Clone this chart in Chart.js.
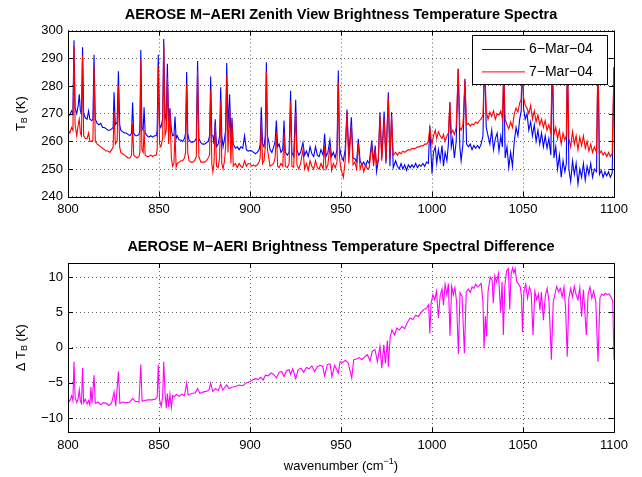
<!DOCTYPE html>
<html>
<head>
<meta charset="utf-8">
<script src="https://cdn.jsdelivr.net/npm/chart.js@4.4.1/dist/chart.umd.min.js"></script>
<style>
  body { margin: 0; background: #fff; }
  #wrap { position: relative; width: 642px; height: 477px; }
  canvas { position: absolute; left: 0; }
</style>
</head>
<body>
<div id="wrap">
  <canvas id="spectra" width="642" height="232" style="top:0"></canvas>
  <canvas id="diff" width="642" height="245" style="top:232px"></canvas>
</div>
<script>
// wavenumbers (cm-1) for the two spectra
const wnTop = [
  800.0, 801.0, 802.0, 802.7, 803.3, 803.9, 804.8, 805.6, 806.2, 806.8,
  807.4, 808.0, 808.6, 809.5, 810.5, 811.3, 812.0, 813.0, 813.7, 814.3,
  815.0, 816.0, 817.0, 818.0, 819.0, 820.0, 821.0, 822.0, 823.0, 824.0,
  824.8, 825.3, 826.0, 827.0, 827.7, 828.4, 829.0, 830.0, 831.0, 832.0,
  833.0, 834.0, 834.9, 835.5, 836.1, 837.0, 838.0, 839.0, 839.5, 840.0,
  840.6, 841.3, 841.8, 842.4, 843.5, 844.5, 845.5, 846.5, 847.5, 848.5,
  849.0, 849.6, 850.3, 851.0, 852.0, 852.6, 853.3, 854.0, 854.6, 855.3,
  856.0, 856.8, 857.5, 858.2, 858.8, 859.4, 860.0, 861.0, 862.0, 863.0,
  864.0, 864.6, 865.2, 865.8, 866.5, 867.5, 868.5, 869.5, 870.5, 871.2,
  871.9, 873.0, 874.0, 875.0, 876.0, 877.0, 877.8, 878.4, 879.0, 879.6,
  880.2, 880.9, 881.6, 882.5, 883.3, 883.9, 884.5, 885.2, 886.0, 886.6,
  887.2, 887.9, 888.8, 889.5, 890.1, 890.8, 892.0, 893.0, 894.0, 895.0,
  896.0, 897.0, 898.0, 899.0, 900.0, 901.0, 902.0, 903.0, 904.0, 905.0,
  905.6, 906.2, 906.9, 907.7, 908.4, 909.0, 909.6, 910.3, 911.0, 912.0,
  913.0, 913.8, 914.5, 915.2, 916.0, 917.0, 918.0, 918.7, 919.4, 920.5,
  921.5, 922.3, 923.0, 924.0, 925.1, 925.8, 926.8, 927.8, 929.1, 930.0,
  931.0, 932.0, 933.0, 934.0, 935.0, 936.0, 937.0, 938.0, 939.0, 940.2,
  941.0, 941.8, 942.8, 943.9, 944.8, 945.8, 946.8, 947.8, 948.5, 949.2,
  950.0, 951.3, 952.3, 953.3, 954.3, 955.7, 956.6, 957.6, 958.6, 959.5,
  960.5, 961.5, 962.5, 963.5, 964.5, 965.5, 966.9, 967.9, 968.8, 969.5,
  970.5, 971.4, 972.4, 973.7, 974.7, 976.0, 976.9, 977.8, 978.7, 980.0,
  981.0, 982.0, 983.0, 984.0, 985.0, 986.0, 987.0, 988.0, 989.0, 990.0,
  991.0, 992.0, 993.0, 994.0, 995.0, 996.0, 997.0, 998.0, 998.8, 999.5,
  1000.0, 1000.8, 1001.8, 1002.6, 1003.5, 1004.5, 1005.5, 1006.3, 1007.2, 1008.2,
  1009.0, 1009.8, 1010.6, 1011.4, 1012.3, 1013.3, 1014.4, 1015.3, 1016.0, 1017.0,
  1018.1, 1019.0, 1020.0, 1021.0, 1022.0, 1023.0, 1024.0, 1025.0, 1026.0, 1027.0,
  1028.0, 1028.9, 1029.8, 1030.8, 1031.8, 1032.8, 1033.8, 1034.8, 1035.8, 1036.8,
  1037.8, 1038.7, 1039.4, 1040.2, 1041.2, 1042.2, 1043.2, 1044.2, 1045.2, 1046.2,
  1047.2, 1048.2, 1049.0, 1049.6, 1050.3, 1051.2, 1052.2, 1053.2, 1054.2, 1055.2,
  1056.2, 1057.2, 1058.2, 1059.2, 1060.2, 1061.2, 1062.2, 1063.2, 1064.2, 1065.3,
  1066.1, 1067.0, 1068.0, 1069.0, 1070.0, 1071.0, 1072.0, 1073.0, 1073.8, 1074.4,
  1075.2, 1076.2, 1077.2, 1078.2, 1079.2, 1080.2, 1081.2, 1082.2, 1083.2, 1084.2,
  1085.2, 1086.2, 1087.2, 1088.2, 1089.2, 1090.4, 1091.2, 1092.0, 1093.0, 1094.0,
  1095.0, 1096.0, 1097.0, 1098.0, 1099.0, 1100.0
];

// brightness temperature (K), 6-Mar-04
const tb6 = [
  270, 269.5, 271, 270, 296.5, 272, 270, 273, 277, 271,
  270, 294, 270, 268.5, 268, 271, 268, 267.5, 268, 291.3,
  268, 266.5, 266, 266.5, 265, 265, 264.5, 264, 264, 264.5,
  265, 277.7, 266, 267, 285.3, 266, 264, 263.5, 263, 263,
  262.5, 262, 263, 274, 263, 262, 262, 262.5, 264, 293,
  265, 264, 272.3, 263, 262, 261.5, 262, 261.5, 262, 262,
  264, 291.3, 266, 265, 268, 297, 268, 270, 288, 267,
  272, 264, 262, 262, 269, 261, 262, 260.5, 260.5, 260,
  261, 263, 285, 263, 260.5, 259.7, 259.7, 260, 261, 289,
  261, 259.5, 259, 259, 259.5, 260, 262, 283.4, 262, 262,
  259, 268, 258, 259, 262, 279.5, 262, 258, 261, 264,
  288.3, 265, 277, 261, 268.5, 259, 257.5, 258, 257, 258,
  257.5, 262, 257, 256.5, 256.7, 256.5, 256, 255.5, 256, 257,
  259, 272.3, 259, 258, 262, 288.6, 262, 260, 257, 256,
  258, 260, 267.5, 258, 259, 256, 257, 267.5, 256, 255,
  256, 278.3, 256, 254.5, 275, 257, 255, 256, 259.5, 255,
  256.5, 254.5, 258, 255.5, 254.5, 258, 255, 254.5, 257, 255,
  262.7, 254.5, 256, 260.5, 254.5, 256, 254, 257, 285.6, 258,
  255, 253, 257, 271.5, 255, 268.7, 254, 253.7, 252.5, 260.9,
  253, 251.5, 252.5, 251, 253, 252, 260.3, 252.5, 258.5, 249,
  253, 270.5, 254, 270.8, 252, 277.7, 251, 270.5, 250.5, 253,
  251, 250, 252, 250, 251.5, 249.5, 251.5, 250.5, 251.5, 250.5,
  252, 250.5, 251.5, 251, 252, 251, 252.5, 252, 265.5, 255,
  248.3, 256, 258, 252, 257, 253, 258.5, 251, 256, 253,
  259, 274.1, 258, 261, 254, 260, 286.2, 258, 253, 259,
  282.6, 259, 258, 259, 257, 258.5, 257.5, 258.5, 257.5, 259,
  262, 291, 265, 262, 259, 264, 257, 261, 263, 256.5,
  262, 258, 288, 254, 258, 250.5, 256, 251, 260, 265,
  262, 268, 271, 292, 272, 268, 270, 264, 267, 262,
  266, 260, 264, 259, 263, 258, 262, 257.5, 261, 255,
  292, 254, 258, 250, 255, 247, 253, 249, 252, 292,
  250, 245.5, 253, 248, 252, 244.5, 250, 247, 252, 246,
  251, 248, 252, 247, 250, 249, 292, 248, 249.5, 247,
  249, 247.5, 249, 247, 248.5, 286.8
];

// brightness temperature (K), 7-Mar-04
const tb7 = [
  264, 263, 265, 264, 294.5, 266, 262, 266, 268, 263,
  262, 291, 262, 261, 261, 263, 260, 260, 260.5, 287.4,
  260, 259, 258.5, 258, 257.5, 257, 256.5, 256.5, 256, 257,
  258, 271, 259, 260, 280, 258, 256, 255.5, 255, 254.5,
  254, 254, 255, 266.3, 255, 254.5, 254, 254.5, 256, 289.4,
  257, 256, 264, 255, 254.5, 254.5, 255, 254.5, 255, 255,
  257, 287.4, 259, 258, 261, 295, 262, 264, 283.2, 259,
  271, 254, 251, 252, 263, 250.7, 252, 252.5, 253, 253,
  254, 256, 280.7, 256, 253, 252.5, 252.5, 253, 254.5, 285.6,
  254.5, 252.5, 252.5, 252.5, 253, 254, 255, 278.6, 252, 249,
  252, 266, 251, 250.5, 254, 274.7, 252, 250, 253, 258,
  283.8, 256, 272.3, 252, 267, 251, 252, 250.5, 252, 251,
  250.5, 253, 251, 252, 251.9, 251, 251.5, 251, 251.5, 252.5,
  254, 267.5, 252, 253, 258, 285.3, 257, 254, 251, 251.5,
  252, 254, 263.3, 251, 250.5, 252, 251, 263.3, 251, 250.5,
  252, 274.5, 251, 250.7, 270.5, 251.5, 250, 252, 257, 250,
  252, 249.5, 253, 251, 250, 253, 250.5, 250, 252, 250,
  258.5, 250, 251.5, 258.5, 249.5, 252, 250.5, 252.5, 281.5, 254,
  250, 247, 253, 270.5, 252, 265.7, 251.5, 252.5, 250, 259.5,
  250, 252, 249, 251.5, 250, 250.5, 258.5, 251, 257, 252,
  253.5, 269.3, 253, 268, 253, 275.9, 254, 269, 255, 256,
  255, 256, 255.5, 256.5, 256, 256.5, 257, 256.8, 257.5, 257.3,
  257.5, 258, 258, 258.5, 258.3, 259, 259, 260, 265, 261,
  259, 262, 264, 261, 263.5, 262, 261, 262.5, 260, 262,
  263, 274.1, 263, 264, 262.5, 265, 286.2, 265, 264, 266,
  282, 266, 266.5, 265.5, 266.3, 266, 267, 266.5, 267.5, 268,
  269.5, 289, 271, 268, 270.5, 269, 271, 268, 270, 269.5,
  271, 268, 286, 268, 266, 264.5, 267, 265, 270, 272,
  270.5, 274, 275, 290, 276, 273, 272, 270, 273, 268,
  271, 267, 269.5, 266, 268, 265, 267.5, 264, 266, 263,
  290, 262.5, 265, 261, 264, 259, 263, 260.5, 262, 290,
  261, 258, 263.5, 259, 262, 257, 261.5, 258.5, 262, 257.5,
  260, 256.5, 259, 256, 258, 256, 290, 255.5, 256.5, 255,
  256, 254.5, 256, 254.5, 255.5, 286.8
];

// wavenumbers (cm-1) for the difference spectrum
const wnDiff = [
  800, 801, 802, 802.7, 803.3, 803.9, 804.8, 805.6, 806.2, 806.8,
  807.4, 808.0, 808.6, 809.5, 810.5, 811.3, 812.0, 812.6, 813.2, 814.3,
  815.0, 816.5, 818.0, 819.5, 821.0, 822.5, 824.0, 825.3, 826.2, 827.7,
  828.5, 830.0, 832.0, 834.0, 835.5, 837.0, 839.0, 840.0, 840.7, 842.0,
  844.0, 846.0, 848.0, 849.0, 849.6, 850.3, 851.2, 852.0, 852.6, 853.3,
  854.0, 854.6, 855.3, 856.0, 856.8, 857.5, 858.5, 859.5, 861.0, 862.5,
  864.0, 865.2, 866.0, 868.0, 870.0, 871.2, 872.5, 874.0, 876.0, 877.5,
  878.4, 879.5, 881.0, 882.5, 883.9, 885.0, 887.2, 888.5, 890.0, 892.0,
  894.0, 896.0, 898.0, 900.0, 901.5, 903.0, 904.5, 906.0, 907.2, 908.5,
  910.0, 911.5, 913.0, 914.5, 916.0, 917.5, 918.7, 920.0, 921.5, 922.3,
  923.5, 925.1, 926.5, 928.0, 929.5, 931.0, 932.5, 934.0, 935.5, 937.0,
  938.5, 940.0, 941.0, 942.5, 944.0, 945.0, 946.5, 948.5, 949.5, 951.0,
  952.5, 954.0, 955.9, 957.0, 958.5, 960.0, 961.5, 963.0, 964.5, 966.0,
  967.2, 968.7, 970.0, 971.4, 972.4, 973.5, 974.4, 975.5, 976.0, 977.0,
  978.0, 979.5, 980.6, 982.0, 983.5, 985.0, 986.5, 988.0, 989.5, 991.0,
  992.5, 994.0, 995.5, 997.0, 998.2, 998.8, 999.5, 1000.5, 1001.5, 1002.5,
  1003.5, 1004.5, 1005.5, 1006.3, 1007.2, 1008.2, 1009.0, 1009.9, 1010.8, 1011.7,
  1012.6, 1013.5, 1014.5, 1015.4, 1016.5, 1017.8, 1018.8, 1020.0, 1021.0, 1022.0,
  1023.0, 1024.0, 1025.0, 1026.0, 1027.0, 1028.0, 1028.6, 1029.3, 1030.0, 1030.8,
  1032.0, 1033.0, 1033.7, 1034.5, 1035.5, 1036.5, 1037.7, 1038.5, 1039.2, 1040.0,
  1041.0, 1042.0, 1042.7, 1043.5, 1044.3, 1045.0, 1045.7, 1046.5, 1047.5, 1048.5,
  1049.2, 1049.7, 1050.5, 1051.5, 1052.5, 1053.5, 1054.5, 1055.5, 1056.5, 1057.5,
  1058.5, 1059.3, 1060.1, 1061.2, 1062.3, 1063.3, 1064.3, 1065.6, 1066.6, 1067.5,
  1068.5, 1069.5, 1070.5, 1071.5, 1072.5, 1073.4, 1074.3, 1075.2, 1076.2, 1077.2,
  1078.2, 1079.2, 1080.2, 1081.2, 1082.2, 1083.2, 1084.8, 1085.8, 1086.8, 1087.8,
  1088.8, 1090.0, 1091.2, 1092.3, 1093.3, 1094.3, 1095.3, 1096.3, 1097.3, 1098.3,
  1099.3, 1100.0
];

// brightness temperature difference (K)
const dTb = [
  -7.3, -7.6, -6.8, -7.5, -2.0, -7.0, -7.8, -7.2, -6.0, -7.6,
  -7.9, -2.9, -7.8, -7.3, -8.0, -7.5, -8.1, -5.6, -7.9, -3.9,
  -7.9, -7.7, -8.1, -7.8, -7.9, -8.2, -7.8, -6.3, -8.3, -3.4,
  -7.9, -7.7, -7.8, -7.7, -7.2, -7.6, -7.7, -2.4, -7.6, -7.5,
  -7.4, -7.4, -7.3, -7.0, -2.4, -7.4, -8.3, -7.0, -2.0, -6.4,
  -8.6, -6.5, -8.4, -6.6, -8.5, -6.8, -7.0, -6.6, -6.9, -6.6,
  -6.8, -5.0, -6.7, -6.5, -6.4, -5.8, -6.5, -6.3, -6.2, -6.0,
  -5.0, -6.2, -5.8, -6.1, -5.2, -6.0, -5.3, -5.8, -5.6, -5.5,
  -5.3, -5.4, -5.0, -4.8, -4.6, -4.4, -4.5, -4.2, -4.6, -3.9,
  -4.0, -3.6, -3.8, -4.3, -3.5, -3.4, -4.1, -3.3, -3.1, -3.8,
  -3.0, -4.4, -3.1, -2.9, -3.5, -2.8, -3.0, -2.6, -3.4, -2.7,
  -2.5, -2.7, -4.0, -2.4, -2.3, -4.1, -2.5, -3.6, -2.0, -2.1,
  -1.8, -2.2, -4.3, -1.7, -1.6, -1.4, -1.7, -1.3, -1.0, -1.9,
  -0.5, -0.3, -2.0, 0.2, -2.9, 0.4, -2.2, 1.0, -2.7, 1.5,
  2.5, 1.8, 2.8, 2.5, 3.0, 2.7, 3.6, 4.2, 4.0, 4.6,
  4.4, 5.0, 5.4, 5.6, 6.1, 2.0, 6.3, 7.5, 6.8, 8.0,
  4.2, 7.4, 8.3, 6.0, 9.0, 7.5, 9.1, 1.7, 8.7, 7.5,
  8.5, 6.5, -0.9, 7.8, 7.3, -0.8, 7.9, 8.3, 7.8, 8.6,
  8.4, 9.0, 8.6, 8.8, 9.1, 6.5, -0.1, 4.5, 1.6, 8.0,
  10.0, 9.6, 6.3, 10.2, 9.3, 10.5, 5.1, 9.3, 1.8, 8.8,
  10.9, 11.2, 5.4, 10.5, 11.3, 10.6, 11.2, 9.4, 9.0, 8.6,
  7.2, 2.2, 8.0, 9.0, 7.0, 8.6, 7.8, 1.8, 8.0, 6.8,
  7.6, 5.3, 7.9, 3.9, 7.4, 8.4, 6.5, -1.7, 6.4, 7.5,
  8.7, 7.9, 8.4, 7.2, 8.6, 5.5, -1.3, 7.0, 8.4, 7.2,
  8.7, 7.5, 6.8, 8.5, 4.4, 8.2, 1.8, 7.7, 8.6, 7.0,
  8.0, 6.5, -2.0, 7.1, 7.6, 7.4, 7.7, 7.5, 7.6, 7.2,
  6.6, -1.7
];

const seriesNames = ['6\u2212Mar\u221204', '7\u2212Mar\u221204'];
const FONT = '"Liberation Sans", Arial, Helvetica, sans-serif';

const pts = (xs, ys) => xs.map((x, i) => ({ x: x, y: ys[i] }));
const minus = v => String(v).replace('-', '\u2212');

// draws text pieces of different sizes (sub/superscripts), centred on cx,cy
function drawParts(ctx, parts, cx, cy, vertical) {
  ctx.save();
  ctx.translate(cx, cy);
  if (vertical) ctx.rotate(-Math.PI / 2);
  ctx.textBaseline = 'middle';
  ctx.textAlign = 'left';
  ctx.fillStyle = '#000';
  let w = 0;
  parts.forEach(p => { ctx.font = (p.b ? 'bold ' : '') + p.s + 'px ' + FONT; w += ctx.measureText(p.t).width; });
  let x = -w / 2;
  parts.forEach(p => {
    ctx.font = (p.b ? 'bold ' : '') + p.s + 'px ' + FONT;
    ctx.fillText(p.t, x, p.dy || 0);
    x += ctx.measureText(p.t).width;
  });
  ctx.restore();
}

// box, inward ticks, titles and legend, in the matlab way
const frame = {
  id: 'frame',
  afterDraw(chart, args, opts) {
    const ctx = chart.ctx, a = chart.chartArea;
    const xs = chart.scales.x, ys = chart.scales.y;
    ctx.save();
    ctx.strokeStyle = '#000';
    ctx.lineWidth = 1;
    ctx.beginPath();
    xs.ticks.forEach(t => {
      const p = Math.round(xs.getPixelForValue(t.value)) + 0.5;
      ctx.moveTo(p, a.bottom); ctx.lineTo(p, a.bottom - 5);
      ctx.moveTo(p, a.top); ctx.lineTo(p, a.top + 5);
    });
    ys.ticks.forEach(t => {
      const p = Math.round(ys.getPixelForValue(t.value)) + 0.5;
      ctx.moveTo(a.left, p); ctx.lineTo(a.left + 5, p);
      ctx.moveTo(a.right, p); ctx.lineTo(a.right - 5, p);
    });
    ctx.stroke();
    ctx.strokeRect(Math.round(a.left) + 0.5, Math.round(a.top) + 0.5,
      Math.round(a.right - a.left), Math.round(a.bottom - a.top));

    if (opts.legend) {
      const L = opts.legend;
      ctx.fillStyle = '#fff';
      ctx.fillRect(L.x, L.y, L.w, L.h);
      ctx.strokeRect(L.x + 0.5, L.y + 0.5, L.w, L.h);
      ctx.font = '14px ' + FONT;
      ctx.textBaseline = 'middle';
      ctx.fillStyle = '#000';
      L.items.forEach((it, i) => {
        const yy = L.y + 14.5 + i * 22.4;
        ctx.strokeStyle = it.color;
        ctx.beginPath();
        ctx.moveTo(L.x + 10, yy); ctx.lineTo(L.x + 53, yy);
        ctx.stroke();
        ctx.fillText(it.label, L.x + 57, yy);
      });
    }
    ctx.restore();
    const cx = (a.left + a.right) / 2;
    if (opts.title) drawParts(ctx, [{ t: opts.title, s: 14.5, b: true }], cx, opts.titleY, false);
    if (opts.yTitle) drawParts(ctx, opts.yTitle, 21, (a.top + a.bottom) / 2, true);
    if (opts.xTitle) drawParts(ctx, opts.xTitle, cx, opts.xTitleY, false);
  }
};

function axes(ymin, ymax, ystep, xHeight) {
  return {
    x: {
      type: 'linear', min: 800, max: 1100,
      afterFit: s => { s.height = xHeight; },
      ticks: { stepSize: 50, padding: 5, color: '#000', font: { family: FONT, size: 13 },
        maxRotation: 0, callback: v => String(v) },
      grid: { color: 'rgba(0,0,0,0.6)', drawTicks: false, tickLength: 0 },
      border: { display: false, dash: [1, 3] }
    },
    y: {
      min: ymin, max: ymax,
      afterFit: s => { s.width = 68; },
      ticks: { stepSize: ystep, includeBounds: false, padding: 5, color: '#000',
        font: { family: FONT, size: 13 }, callback: v => minus(v) },
      grid: { color: 'rgba(0,0,0,0.6)', drawTicks: false, tickLength: 0 },
      border: { display: false, dash: [1, 3] }
    }
  };
}

// top chart: brightness temperature spectra
new Chart(document.getElementById('spectra'), {
  type: 'line',
  data: {
    datasets: [
      { label: seriesNames[0], data: pts(wnTop, tb6), borderColor: '#0000ff', order: 2 },
      { label: seriesNames[1], data: pts(wnTop, tb7), borderColor: '#ff0000', order: 1 }
    ]
  },
  options: {
    responsive: false,
    animation: false,
    layout: { padding: { left: 0, right: 28, top: 30.6, bottom: 0 } },
    elements: { point: { radius: 0 }, line: { borderWidth: 1.1, tension: 0 } },
    scales: axes(240, 300, 10, 232 - 196.7),
    plugins: {
      legend: { display: false },
      tooltip: { enabled: false },
      frame: {
        title: 'AEROSE M\u2212AERI Zenith View Brightness Temperature Spectra',
        titleY: 14.8,
        yTitle: [{ t: 'T', s: 13 }, { t: 'B', s: 9, dy: 4 }, { t: ' (K)', s: 13 }],
        legend: { x: 472, y: 35, w: 135, h: 49,
          items: [{ label: seriesNames[0], color: '#0000ff' }, { label: seriesNames[1], color: '#ff0000' }] }
      }
    }
  },
  plugins: [frame]
});

// bottom chart: spectral difference
new Chart(document.getElementById('diff'), {
  type: 'line',
  data: {
    datasets: [
      { label: 'difference', data: pts(wnDiff, dTb), borderColor: '#ff00ff' }
    ]
  },
  options: {
    responsive: false,
    animation: false,
    layout: { padding: { left: 0, right: 28, top: 31, bottom: 0 } },
    elements: { point: { radius: 0 }, line: { borderWidth: 1.1, tension: 0 } },
    scales: axes(-12, 12, 5, 245 - 200.3),
    plugins: {
      legend: { display: false },
      tooltip: { enabled: false },
      frame: {
        title: 'AEROSE M\u2212AERI Brightness Temperature Spectral Difference',
        titleY: 14.7,
        yTitle: [{ t: '\u0394 T', s: 13 }, { t: 'B', s: 9, dy: 4 }, { t: ' (K)', s: 13 }],
        xTitle: [{ t: 'wavenumber (cm', s: 13 }, { t: '\u22121', s: 9, dy: -5 }, { t: ')', s: 13 }],
        xTitleY: 234.7
      }
    }
  },
  plugins: [frame]
});
</script>
</body>
</html>
